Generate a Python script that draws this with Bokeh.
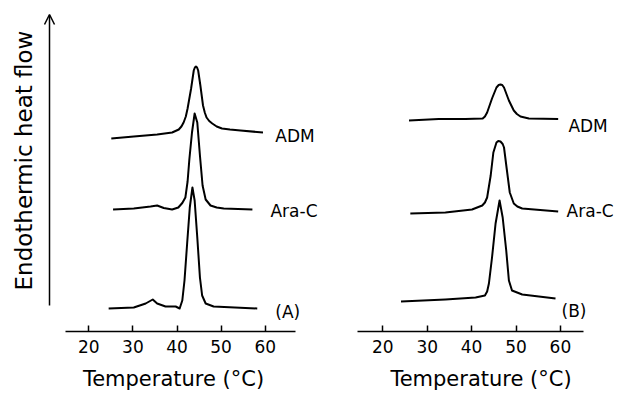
import math
from bokeh.plotting import figure
from bokeh.layouts import row
from bokeh.models import Range1d, FixedTicker, Label, Arrow, OpenHead, LinearAxis, Grid
from bokeh.embed import file_html
from bokeh.resources import INLINE

# ---------------- data (temperature in °C, heat flow in arbitrary units) -------------
TICKS = [20, 30, 40, 50, 60]

A_ADM_T = [25.1, 30.2, 35.5, 38.9, 40.4, 41.0, 41.5, 42.0, 42.4, 43.2, 43.8, 44.05, 44.3, 44.55, 44.8, 45.3, 45.9, 46.3, 46.7, 47.3, 48.0, 49.0, 50.2, 52.0, 54.4, 59.5]
A_ADM_V = [193, 195, 197, 199, 202, 205, 209, 215, 223, 243, 261, 264, 265, 264, 261, 246, 226, 219, 214, 210.5, 208, 205, 203, 202, 201, 199]

A_ARA_T = [25.5, 30.2, 34.0, 35.5, 37.0, 38.9, 40.3, 41.2, 41.9, 42.4, 42.8, 43.4, 44.0, 44.6, 45.2, 45.8, 46.5, 47.6, 49.0, 50.6, 57.1]
A_ARA_V = [122, 123, 125, 126, 123.5, 122, 124, 128.5, 134, 150, 172, 199, 218, 209, 176, 146, 132, 126, 124, 123, 122]

A_BOT_T = [24.5, 30.2, 32.9, 34.5, 35.5, 37.4, 39.7, 40.6, 41.2, 41.7, 42.3, 42.9, 43.5, 44.0, 44.6, 45.2, 45.7, 46.5, 48.3, 58.2]
A_BOT_V = [23, 24, 28, 32, 28, 25, 25, 23, 31, 51, 88, 124, 144, 131, 94, 54, 36, 28, 25, 23]

B_ADM_T = [25.9, 32.6, 38.6, 42.5, 43.0, 43.5, 44.6, 45.6, 46.1, 46.5, 46.9, 47.3, 48.4, 49.5, 50.2, 51.0, 52.9, 59.5]
B_ADM_V = [211, 212.5, 212.5, 213, 215, 219, 233, 244, 246.5, 247, 246.5, 244, 231, 221, 217.5, 215, 213, 212.5]

B_ARA_T = [26.2, 34.1, 40.1, 42.4, 43.0, 43.5, 44.3, 44.9, 45.6, 46.0, 46.5, 47.0, 47.3, 47.9, 48.6, 49.5, 50.3, 51.4, 59.5]
B_ARA_V = [118, 119, 122, 126, 129, 134, 156, 179, 189, 190.5, 190, 187.5, 184, 163, 139, 128, 125, 123, 120]

B_BOT_T = [24.1, 34.1, 40.9, 43.0, 43.5, 43.9, 44.6, 45.4, 46.3, 47.0, 47.8, 48.4, 49.1, 51.4, 58.9]
B_BOT_V = [30, 32, 34, 36, 40, 48, 74, 108, 131, 114, 81, 51, 41, 37, 33]

CURVE_LABELS_A = ["ADM", "Ara-C", "(A)"]
CURVE_LABELS_B = ["ADM", "Ara-C", "(B)"]
X_LABEL = "Temperature (°C)"
Y_LABEL = "Endothermic heat flow"

FONT = "DejaVu Sans"


def make_fig(width, left, xr, bounds):
    p = figure(width=width, height=397, x_range=Range1d(*xr), y_range=Range1d(0, 331),
               output_backend="svg", toolbar_location=None,
               x_axis_location=None, y_axis_location=None,
               min_border_left=left, min_border_right=0, min_border_top=0, min_border_bottom=66)
    p.outline_line_color = None
    p.background_fill_color = "white"
    p.border_fill_color = "white"
    for r in list(p.center):
        if isinstance(r, Grid):
            r.visible = False
    ax = LinearAxis(ticker=FixedTicker(ticks=TICKS), bounds=bounds,
                    major_tick_in=6, major_tick_out=0, minor_tick_in=0, minor_tick_out=0,
                    major_tick_line_width=1.5, axis_line_width=1.5,
                    major_label_standoff=8,
                    major_label_text_font=FONT, major_label_text_font_size="17px",
                    major_label_text_color="black", axis_line_color="black",
                    major_tick_line_color="black",
                    axis_label=X_LABEL, axis_label_text_font=FONT,
                    axis_label_text_font_size="21px", axis_label_text_font_style="normal",
                    axis_label_text_color="black", axis_label_standoff=11)
    p.add_layout(ax, "below")
    return p


def add_curves(p, curves, labels, label_pos):
    for (t, v) in curves:
        p.line(t, v, line_color="black", line_width=2, line_join="round")
    for txt, (lx, ly) in zip(labels, label_pos):
        p.add_layout(Label(x=lx, y=ly, text=txt, text_font=FONT, text_font_size="17px",
                           text_align="left", text_baseline="middle", text_color="black"))


# Panel A: frame 11..335 px, 20 °C at 88.3 px, 4.41 px/°C
pA = make_fig(335, 11, (20 - (88.3 - 11) / 4.41, 20 + (335 - 88.3) / 4.41), (14.72, 66.87))
add_curves(pA, [(A_ADM_T, A_ADM_V), (A_ARA_T, A_ARA_V), (A_BOT_T, A_BOT_V)],
           CURVE_LABELS_A, [(62.3, 196), (61.2, 121), (62.3, 20)])
pA.add_layout(Arrow(end=OpenHead(size=10, line_width=1.5, line_color="black"),
                    x_start=11.09, y_start=26, x_end=11.09, y_end=317,
                    line_width=1.5, line_color="black"))
pA.add_layout(Label(x=5.2, y=171, text=Y_LABEL, angle=math.pi / 2, text_font=FONT,
                    text_font_size="23px", text_align="center", text_baseline="middle",
                    text_color="black"))

# Panel B: canvas starts at 335 px, 20 °C at 382.3 px, 4.44 px/°C
pB = make_fig(291, 0, (20 + (335 - 382.3) / 4.44, 20 + (626 - 382.3) / 4.44), (14.23, 65.27))
add_curves(pB, [(B_ADM_T, B_ADM_V), (B_ARA_T, B_ARA_V), (B_BOT_T, B_BOT_V)],
           CURVE_LABELS_B, [(61.8, 206), (61.4, 121), (60.25, 21)])

layout = row(pA, pB)
open("out.html", "w").write(file_html(layout, INLINE))
